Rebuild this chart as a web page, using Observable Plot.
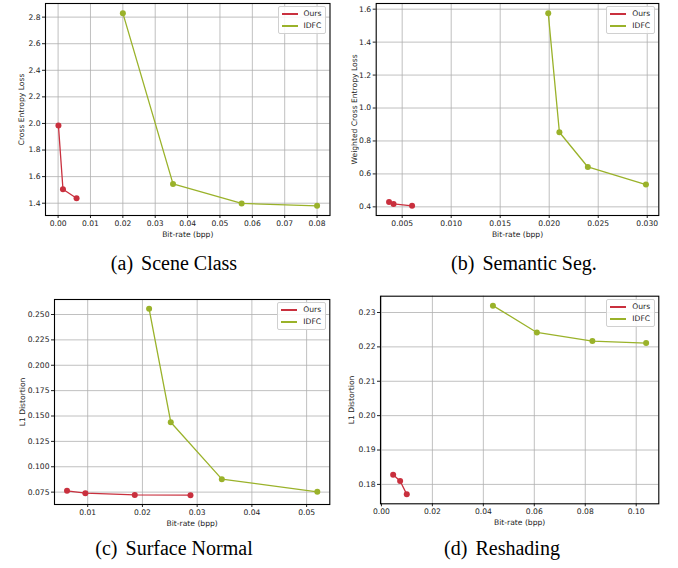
<!DOCTYPE html>
<html>
<head>
<meta charset="utf-8">
<script src="https://cdn.jsdelivr.net/npm/d3@7"></script>
<script src="https://cdn.jsdelivr.net/npm/@observablehq/plot@0.6"></script>
<style>
  html, body { margin: 0; padding: 0; background: #fff; }
  #root { position: relative; width: 678px; height: 568px; overflow: hidden; }
  .panel { position: absolute; }
  .legend { position: absolute; border: 1px solid #d0d0d0; border-radius: 2px; background: rgba(255,255,255,0.85);
    font-family: "DejaVu Sans", sans-serif; font-size: 7.6px; color: #222; padding: 1px 4px 1px 3px; line-height: 12px; }
  .legend .row { display: flex; align-items: center; white-space: nowrap; }
  .legend .sw { display: inline-block; width: 16px; height: 2px; margin-right: 6px; }
  .cap { position: absolute; font-family: "Liberation Serif", "Times New Roman", serif; font-size: 20px; color: #000;
    white-space: nowrap; transform: translateX(-50%); }
  .cap .lab { margin-right: 8px; }
</style>
</head>
<body>
<div id="root"></div>
<script>
// ---- data ----
const seriesNames = ["Ours", "IDFC"];
const seriesColors = ["#c9303e", "#9ab22a"];

// (a) Scene Class
const aOursX = [0.0001, 0.0015, 0.0057];
const aOursY = [1.985, 1.505, 1.437];
const aIdfcX = [0.0200, 0.0355, 0.0567, 0.0800];
const aIdfcY = [2.830, 1.545, 1.398, 1.380];
const aXTicks = [0, 0.01, 0.02, 0.03, 0.04, 0.05, 0.06, 0.07, 0.08];
const aYTicks = [1.4, 1.6, 1.8, 2.0, 2.2, 2.4, 2.6, 2.8];

// (b) Semantic Seg.
const bOursX = [0.00366, 0.00412, 0.00601];
const bOursY = [0.430, 0.418, 0.406];
const bIdfcX = [0.0199, 0.02104, 0.02394, 0.02987];
const bIdfcY = [1.576, 0.853, 0.642, 0.535];
const bXTicks = [0.005, 0.010, 0.015, 0.020, 0.025, 0.030];
const bYTicks = [0.4, 0.6, 0.8, 1.0, 1.2, 1.4, 1.6];

// (c) Surface Normal
const cOursX = [0.00622, 0.00957, 0.0186, 0.02878];
const cOursY = [0.0763, 0.0740, 0.0723, 0.0720];
const cIdfcX = [0.02122, 0.02518, 0.03451, 0.05195];
const cIdfcY = [0.2556, 0.1439, 0.0878, 0.0753];
const cXTicks = [0.01, 0.02, 0.03, 0.04, 0.05];
const cYTicks = [0.075, 0.100, 0.125, 0.150, 0.175, 0.200, 0.225, 0.250];

// (d) Reshading
const dOursX = [0.0046, 0.00734, 0.00995];
const dOursY = [0.1828, 0.1810, 0.1771];
const dIdfcX = [0.04376, 0.0610, 0.0828, 0.1039];
const dIdfcY = [0.2320, 0.2242, 0.2217, 0.2211];
const dXTicks = [0, 0.02, 0.04, 0.06, 0.08, 0.10];
const dYTicks = [0.18, 0.19, 0.20, 0.21, 0.22, 0.23];

const xLabel = "Bit-rate (bpp)";
const captions = [["(a)", "Scene Class"], ["(b)", "Semantic Seg."], ["(c)", "Surface Normal"], ["(d)", "Reshading"]];

// ---- helpers ----
function rows(xs, ys, name) { return xs.map((x, i) => ({x, y: ys[i], name})); }
function padDomain(vals) {
  const lo = d3.min(vals), hi = d3.max(vals), m = (hi - lo) * 0.05;
  return [lo - m, hi + m];
}

const root = document.getElementById("root");

function panel(cfg) {
  const ours = rows(cfg.oursX, cfg.oursY, "Ours");
  const idfc = rows(cfg.idfcX, cfg.idfcY, "IDFC");
  const all = ours.concat(idfc);
  const xd = padDomain(all.map(d => d.x));
  const yd = padDomain(all.map(d => d.y));
  const p = Plot.plot({
    width: cfg.w, height: cfg.h,
    marginLeft: cfg.ml, marginRight: cfg.mr, marginTop: cfg.mt, marginBottom: cfg.mb,
    style: {fontFamily: "DejaVu Sans, sans-serif", fontSize: "7.6px", color: "#222", background: "transparent", overflow: "visible"},
    x: {domain: xd},
    y: {domain: yd},
    marks: [
      Plot.gridX(cfg.xTicks, {stroke: "#b0b0b0", strokeOpacity: 1, strokeWidth: 0.8}),
      Plot.gridY(cfg.yTicks, {stroke: "#b0b0b0", strokeOpacity: 1, strokeWidth: 0.8}),
      Plot.axisX(cfg.xTicks, {tickFormat: d => d.toFixed(cfg.xDec), tickSize: 3, tickPadding: 2,
        label: xLabel, labelAnchor: "center", labelArrow: "none", labelOffset: 21}),
      Plot.axisY(cfg.yTicks, {tickFormat: d => d.toFixed(cfg.yDec), tickSize: 3, tickPadding: 2,
        label: cfg.ylabel, labelAnchor: "center", labelArrow: "none", labelOffset: cfg.ylo}),
      Plot.line(ours, {x: "x", y: "y", stroke: seriesColors[0], strokeWidth: 1.3}),
      Plot.dot(ours, {x: "x", y: "y", fill: seriesColors[0], r: 3}),
      Plot.line(idfc, {x: "x", y: "y", stroke: seriesColors[1], strokeWidth: 1.3}),
      Plot.dot(idfc, {x: "x", y: "y", fill: seriesColors[1], r: 3}),
      Plot.frame({stroke: "#000", strokeWidth: 1.1})
    ]
  });
  const wrap = document.createElement("div");
  wrap.className = "panel";
  wrap.style.left = cfg.left + "px";
  wrap.style.top = cfg.top + "px";
  wrap.appendChild(p);
  root.appendChild(wrap);

  // legend (upper right inside the frame)
  const lg = document.createElement("div");
  lg.className = "legend";
  lg.style.left = (cfg.left + cfg.w - cfg.mr - 52) + "px";
  lg.style.top = (cfg.top + cfg.mt + 3) + "px";
  seriesNames.forEach((n, i) => {
    const r = document.createElement("div");
    r.className = "row";
    const sw = document.createElement("span");
    sw.className = "sw";
    sw.style.background = seriesColors[i];
    r.appendChild(sw);
    r.appendChild(document.createTextNode(n));
    lg.appendChild(r);
  });
  root.appendChild(lg);

  // caption
  const cap = document.createElement("div");
  cap.className = "cap";
  cap.style.left = cfg.capX + "px";
  cap.style.top = cfg.capY + "px";
  cap.innerHTML = `<span class="lab">${cfg.cap[0]}</span>${cfg.cap[1]}`;
  root.appendChild(cap);
}

panel({oursX: aOursX, oursY: aOursY, idfcX: aIdfcX, idfcY: aIdfcY, xTicks: aXTicks, yTicks: aYTicks,
  xDec: 2, yDec: 1, ylabel: "Cross Entropy Loss", ylo: 27,
  left: 0, top: 0, w: 339, h: 240, ml: 45, mr: 9.5, mt: 3, mb: 25, cap: captions[0], capX: 174, capY: 252});
panel({oursX: bOursX, oursY: bOursY, idfcX: bIdfcX, idfcY: bIdfcY, xTicks: bXTicks, yTicks: bYTicks,
  xDec: 3, yDec: 1, ylabel: "Weighted Cross Entropy Loss", ylo: 25,
  left: 339, top: 0, w: 339, h: 240, ml: 36.7, mr: 19.7, mt: 3, mb: 25, cap: captions[1], capX: 524, capY: 252});
panel({oursX: cOursX, oursY: cOursY, idfcX: cIdfcX, idfcY: cIdfcY, xTicks: cXTicks, yTicks: cYTicks,
  xDec: 2, yDec: 3, ylabel: "L1 Distortion", ylo: 35,
  left: 0, top: 280, w: 339, h: 250, ml: 54, mr: 9.7, mt: 19, mb: 26, cap: captions[2], capX: 174, capY: 537});
panel({oursX: dOursX, oursY: dOursY, idfcX: dIdfcX, idfcY: dIdfcY, xTicks: dXTicks, yTicks: dYTicks,
  xDec: 2, yDec: 2, ylabel: "L1 Distortion", ylo: 32,
  left: 339, top: 280, w: 339, h: 250, ml: 41, mr: 19.7, mt: 15.7, mb: 26.7, cap: captions[3], capX: 502, capY: 537});
</script>
</body>
</html>
